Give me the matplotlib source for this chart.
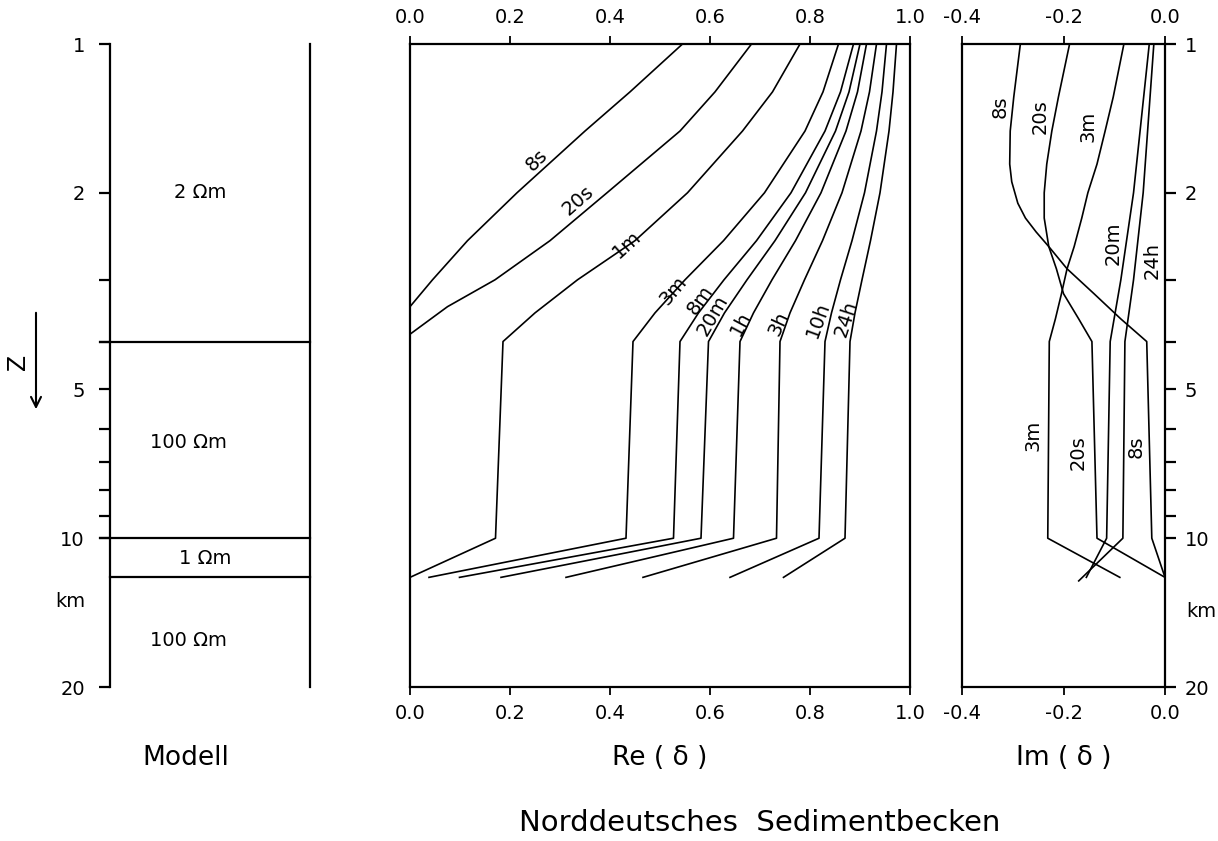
import matplotlib.pyplot as plt
from matplotlib.ticker import FixedLocator, NullLocator, FixedFormatter, NullFormatter

plt.rcParams['font.family'] = ['DejaVu Sans']

# depth axis (km), log scale from 1 to 20
major_depth = [1, 2, 5, 10, 20]
minor_depth = [3, 4, 6, 7, 8, 9]

# model layers
layer_bounds = [4, 10, 12]
layer_text = ['2 Ωm', '100 Ωm', '1 Ωm', '100 Ωm']
layer_text_x = [0.45, 0.39, 0.475, 0.39]
layer_text_d = [2.0, 6.4, 11.0, 16.1]

# Re(delta) curves, short periods
short_depth = [1, 1.25, 1.5, 2, 2.5, 3, 3.4, 3.8, 4, 10, 12]
re_8s = [0.545, 0.44, 0.35, 0.214, 0.115, 0.045, 0.0, -0.038, -0.044, -0.041, -0.007]
re_20s = [0.683, 0.61, 0.54, 0.394, 0.28, 0.17, 0.075, 0.01, -0.02, -0.031, 0.0]

# Re(delta) curves, longer periods
long_depth = [1, 1.25, 1.5, 2, 2.5, 3, 3.5, 4, 10, 12]
re_1m = [0.78, 0.725, 0.665, 0.555, 0.45, 0.335, 0.25, 0.186, 0.171, 0.0]
re_3m = [0.857, 0.826, 0.79, 0.709, 0.627, 0.55, 0.49, 0.446, 0.432, 0.038]
re_8m = [0.887, 0.861, 0.83, 0.762, 0.693, 0.628, 0.577, 0.54, 0.527, 0.099]
re_20m = [0.90, 0.878, 0.851, 0.791, 0.73, 0.674, 0.629, 0.597, 0.582, 0.182]
re_1h = [0.913, 0.895, 0.872, 0.822, 0.771, 0.724, 0.687, 0.66, 0.647, 0.312]
re_3h = [0.933, 0.919, 0.902, 0.864, 0.825, 0.789, 0.76, 0.74, 0.733, 0.466]
re_10h = [0.953, 0.944, 0.933, 0.909, 0.884, 0.861, 0.843, 0.83, 0.818, 0.64]
re_24h = [0.973, 0.966, 0.958, 0.94, 0.921, 0.904, 0.89, 0.88, 0.87, 0.747]

re_labels = ['8s', '20s', '1m', '3m', '8m', '20m', '1h', '3h', '10h', '24h']
re_label_x = [0.254, 0.336, 0.434, 0.526, 0.58, 0.606, 0.662, 0.738, 0.816, 0.872]
re_label_d = [1.72, 2.07, 2.55, 3.15, 3.30, 3.54, 3.67, 3.67, 3.62, 3.59]
re_label_rot = [45, 41, 42, 50, 55, 60, 62, 65, 70, 72]

# Im(delta) curves
im_depth_8s = [1, 1.28, 1.5, 1.75, 1.9, 2.1, 2.25, 2.4, 2.57, 2.85, 3.2, 3.6, 4.0, 10, 12]
im_8s = [-0.285, -0.298, -0.305, -0.306, -0.302, -0.29, -0.275, -0.254, -0.229, -0.193,
         -0.14, -0.087, -0.036, -0.026, 0.0]
im_depth = [1, 1.28, 1.5, 1.75, 2.0, 2.25, 2.57, 2.85, 3.2, 3.6, 4.0, 10, 12]
im_20s = [-0.188, -0.21, -0.223, -0.233, -0.238, -0.238, -0.229, -0.214, -0.2, -0.17, -0.144, -0.134, 0.0]
im_3m = [-0.081, -0.102, -0.118, -0.134, -0.152, -0.164, -0.179, -0.193, -0.204, -0.216, -0.228, -0.231, -0.089]
im_depth2 = [1, 2, 3, 4, 10, 12]
im_20m = [-0.031, -0.062, -0.087, -0.108, -0.115, -0.155]
im_depth3 = [1, 2, 3, 4, 10, 12.2]
im_24h = [-0.022, -0.043, -0.062, -0.079, -0.083, -0.17]

im_labels = ['8s', '20s', '3m', '20m', '24h', '3m', '20s', '8s']
im_label_x = [-0.325, -0.246, -0.152, -0.103, -0.026, -0.26, -0.172, -0.057]
im_label_d = [1.34, 1.40, 1.47, 2.53, 2.74, 6.19, 6.70, 6.54]

W, H = 1218, 841
fig = plt.figure(figsize=(W / 100, H / 100), dpi=100)


def box(x0, x1):
    return [x0 / W, 1 - 687 / H, (x1 - x0) / W, 643 / H]


ax_m = fig.add_axes(box(110, 310))
ax_re = fig.add_axes(box(410, 910))
ax_im = fig.add_axes(box(962, 1165))

spine_lw = 1.6
line_lw = 1.2

for ax in (ax_m, ax_re, ax_im):
    ax.set_yscale('log')
    ax.set_ylim(20, 1)
    for s in ax.spines.values():
        s.set_linewidth(spine_lw)
    ax.yaxis.set_major_locator(NullLocator())
    ax.yaxis.set_minor_locator(NullLocator())

# ---- model panel ----
ax_m.set_xlim(0, 1)
ax_m.spines['top'].set_visible(False)
ax_m.spines['bottom'].set_visible(False)
ax_m.set_xticks([])
ax_m.yaxis.set_major_locator(FixedLocator(major_depth))
ax_m.yaxis.set_major_formatter(FixedFormatter([str(d) for d in major_depth]))
ax_m.yaxis.set_minor_locator(FixedLocator(minor_depth))
ax_m.yaxis.set_minor_formatter(NullFormatter())
ax_m.tick_params(axis='y', which='both', direction='out', length=8, width=spine_lw,
                 labelsize=14, pad=10)
for d in layer_bounds:
    x0 = 0.0 if d == 12 else -0.05
    ax_m.plot([x0, 1], [d, d], color='black', lw=spine_lw, clip_on=False)
for t, x, d in zip(layer_text, layer_text_x, layer_text_d):
    ax_m.text(x, d, t, ha='center', va='center', fontsize=14)
ax_m.text(-0.2, 13.4, 'km', ha='center', va='center', fontsize=14)
ax_m.text(0.38, -0.11, 'Modell', transform=ax_m.transAxes, ha='center', va='center', fontsize=19)

fig.text(18 / W, 1 - 362 / H, 'Z', rotation=90, ha='center', va='center', fontsize=17)
fig.add_artist(plt.matplotlib.patches.FancyArrowPatch(
    (36 / W, 1 - 310 / H), (36 / W, 1 - 412 / H), transform=fig.transFigure,
    arrowstyle='->', mutation_scale=18, lw=1.5, color='black'))

# ---- Re panel ----
ax_re.set_xlim(0, 1)
ax_re.set_xticks([0, 0.2, 0.4, 0.6, 0.8, 1.0])
ax_re.set_xticklabels(['0.0', '0.2', '0.4', '0.6', '0.8', '1.0'])
ax_re.tick_params(axis='x', top=True, labeltop=True, bottom=True, labelbottom=True,
                  direction='out', length=6, width=1.3, labelsize=14, pad=6)
ax_re.plot(re_8s, short_depth, color='black', lw=line_lw)
ax_re.plot(re_20s, short_depth, color='black', lw=line_lw)
for vals in (re_1m, re_3m, re_8m, re_20m, re_1h, re_3h, re_10h, re_24h):
    ax_re.plot(vals, long_depth, color='black', lw=line_lw)
for t, x, d, r in zip(re_labels, re_label_x, re_label_d, re_label_rot):
    ax_re.text(x, d, t, rotation=r, ha='center', va='center', fontsize=14,
               rotation_mode='anchor')
ax_re.text(0.5, -0.11, 'Re ( δ )', transform=ax_re.transAxes, ha='center', va='center', fontsize=19)

# ---- Im panel ----
ax_im.set_xlim(-0.4, 0.0)
ax_im.set_xticks([-0.4, -0.2, 0.0])
ax_im.set_xticklabels(['-0.4', '-0.2', '0.0'])
ax_im.tick_params(axis='x', top=True, labeltop=True, bottom=True, labelbottom=True,
                  direction='out', length=6, width=1.3, labelsize=14, pad=6)
ax_im.yaxis.set_major_locator(FixedLocator(major_depth))
ax_im.yaxis.set_major_formatter(FixedFormatter([str(d) for d in major_depth]))
ax_im.yaxis.set_minor_locator(FixedLocator(minor_depth))
ax_im.yaxis.set_minor_formatter(NullFormatter())
ax_im.tick_params(axis='y', which='both', left=False, labelleft=False, right=True,
                  labelright=True, direction='out', length=8, width=spine_lw,
                  labelsize=14, pad=6)
ax_im.plot(im_8s, im_depth_8s, color='black', lw=line_lw)
ax_im.plot(im_20s, im_depth, color='black', lw=line_lw)
ax_im.plot(im_3m, im_depth, color='black', lw=line_lw)
ax_im.plot(im_20m, im_depth2, color='black', lw=line_lw)
ax_im.plot(im_24h, im_depth3, color='black', lw=line_lw)
for t, x, d in zip(im_labels, im_label_x, im_label_d):
    ax_im.text(x, d, t, rotation=90, ha='center', va='center', fontsize=14)
ax_im.text(1.18, 14.1, 'km', transform=ax_im.get_yaxis_transform(), ha='center',
           va='center', fontsize=14)
ax_im.text(0.5, -0.11, 'Im ( δ )', transform=ax_im.transAxes, ha='center', va='center', fontsize=19)

fig.text(760 / W, 1 - 823 / H, 'Norddeutsches  Sedimentbecken', ha='center', va='center',
         fontsize=21)

fig.savefig('out.png', dpi=100, facecolor='white')
